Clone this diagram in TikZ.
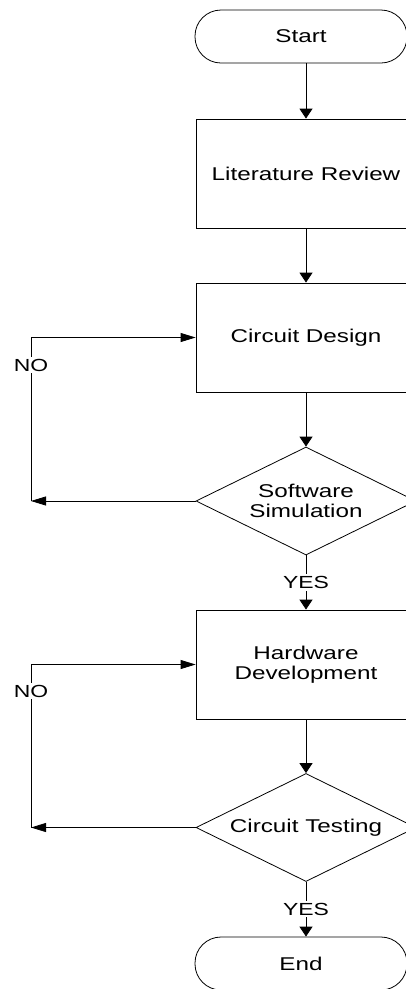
\documentclass[tikz,border=0pt]{standalone}
\usepackage{fontspec}
\setmainfont[FakeStretch=1.31]{Liberation Sans}
\usetikzlibrary{arrows.meta,shapes.geometric}
\begin{document}
\begin{tikzpicture}[x=1pt,y=-1pt,
  every node/.style={font=\fontsize{18.5}{20.5}\selectfont, text=black},
  line/.style={draw=black, line width=0.8pt},
  term/.style={line, rounded corners=26pt, minimum width=212pt, minimum height=53pt, inner sep=0pt},
  proc/.style={line, rectangle, minimum width=220pt, minimum height=109pt, inner sep=0pt, align=center},
  dec/.style={line, diamond, minimum width=220pt, minimum height=108pt, inner sep=0pt},
  txt/.style={align=center, inner sep=0pt},
  varr/.style={line, -{Triangle[length=10pt,width=13pt]}},
  harr/.style={line, -{Triangle[length=15pt,width=9pt]}},
  lbl/.style={font=\fontsize{17.5}{19}\selectfont, fill=white, inner sep=2pt}
]
\useasboundingbox (0,0) rectangle (406,989);
\clip (0,0) rectangle (406,989);

\node[term] (start) at (301,36.5) {Start};
\node[proc] (lit) at (306,173.5) {Literature Review};
\node[proc] (cd) at (306,337.5) {Circuit Design};
\node[dec] (sim) at (306,501) {};
\node[txt] (simtxt) at (sim.center) {Software\\Simulation};
\node[proc] (hw) at (306,664.5) {Hardware\\Development};
\node[dec] (ct) at (306,827.5) {};
\node[txt] (cttxt) at (ct.center) {Circuit Testing};
\node[term] (end) at (301,963.5) {End};

\coordinate (c1) at (31,501);
\coordinate (c2) at (31,827.5);

\draw[varr] (lit.north |- start.south) -- (lit.north);
\draw[varr] (lit.south) -- (cd.north);
\draw[varr] (cd.south) -- (sim.north);
\draw[varr] (sim.south) -- (hw.north) node[lbl, pos=0.5] (yes1) {YES};
\draw[varr] (hw.south) -- (ct.north);
\draw[varr] (ct.south) -- (ct.south |- end.north) node[lbl, pos=0.5] (yes2) {YES};

\draw[harr] (sim.west) -- (c1);
\draw[harr] (c1) |- (cd.west);
\node[lbl] (no1) at (31,365) {NO};

\draw[harr] (ct.west) -- (c2);
\draw[harr] (c2) |- (hw.west);
\node[lbl] (no2) at (31,691) {NO};
\end{tikzpicture}
\end{document}
